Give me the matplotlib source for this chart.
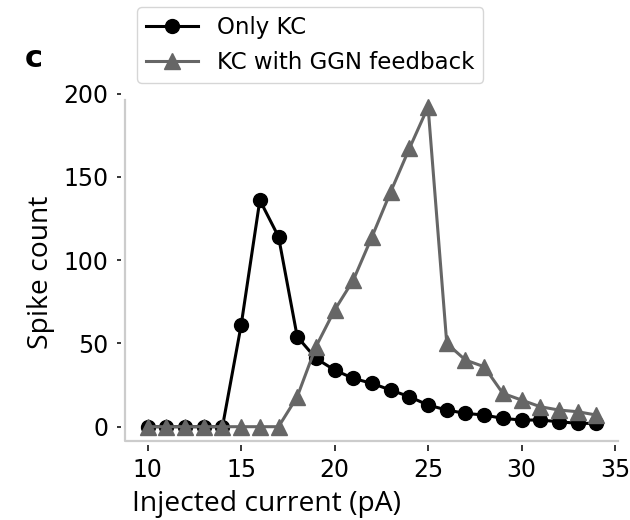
import matplotlib
matplotlib.use("Agg")
import matplotlib.pyplot as plt
from matplotlib.lines import Line2D

# injected current steps (pA)
current = list(range(10, 35))

# spike counts per step
only_kc = [0, 0, 0, 0, 0, 61, 136, 114, 54, 41, 34, 29, 26, 22, 18, 13,
           10, 8, 7, 5, 4, 4, 3, 2, 2]
kc_ggn = [0, 0, 0, 0, 0, 0, 0, 0, 18, 48, 70, 88, 114, 141, 167, 192,
          50, 40, 36, 20, 16, 12, 10, 9, 7]

xticks = [10, 15, 20, 25, 30, 35]
yticks = [0, 50, 100, 150, 200]

fig = plt.figure(figsize=(6.3, 5.2), dpi=100)
ax = fig.add_axes([129 / 630, 1 - 426.7 / 520, 486 / 630, 333.2 / 520])

ax.plot(current, only_kc, color="black", marker="o", lw=2.2, ms=10,
        label="Only KC", clip_on=False, zorder=3)
ax.plot(current, kc_ggn, color="#666666", marker="^", lw=2.2, ms=11,
        label="KC with GGN feedback", clip_on=False, zorder=4)

ax.set_xlim(9, 35)
ax.set_ylim(0, 200)
ax.set_xticks(xticks)
ax.set_yticks(yticks)

# ticks sit a little outside the light grey frame
for s in ["top", "right"]:
    ax.spines[s].set_visible(False)
ax.spines["bottom"].set_position(("outward", 13.2))
ax.spines["left"].set_position(("outward", 5.8))
ax.spines["bottom"].set_visible(False)
ax.spines["left"].set_visible(False)
ax.tick_params(axis="x", labelsize=17, width=1.1, length=4.5, pad=5)
ax.tick_params(axis="y", labelsize=17, width=1.1, length=3, pad=6)

frame = Line2D([-0.0082, -0.0082, 1.006], [0.98, -0.043, -0.043],
               transform=ax.transAxes, color="#cccccc", lw=1.6,
               clip_on=False, zorder=1)
ax.add_line(frame)

lab_font = ["Open Sans", "DejaVu Sans"]
ax.set_xlabel("Injected current (pA)", fontsize=20.3, family=lab_font)
ax.xaxis.set_label_coords(0.283, -0.19)
ax.set_ylabel("Spike count", fontsize=20.3, family=lab_font)
ax.yaxis.set_label_coords(-0.152, 0.464)

fig.text(25 / 630, 1 - 67 / 520, "c", fontsize=22, fontweight="bold",
         va="baseline")

fig.legend(loc="upper left", bbox_to_anchor=(137 / 630, 1 - 7 / 520),
           bbox_transform=fig.transFigure, fontsize=16.5, frameon=True,
           handlelength=2.27, borderaxespad=0)

fig.savefig("out.png", dpi=100)
